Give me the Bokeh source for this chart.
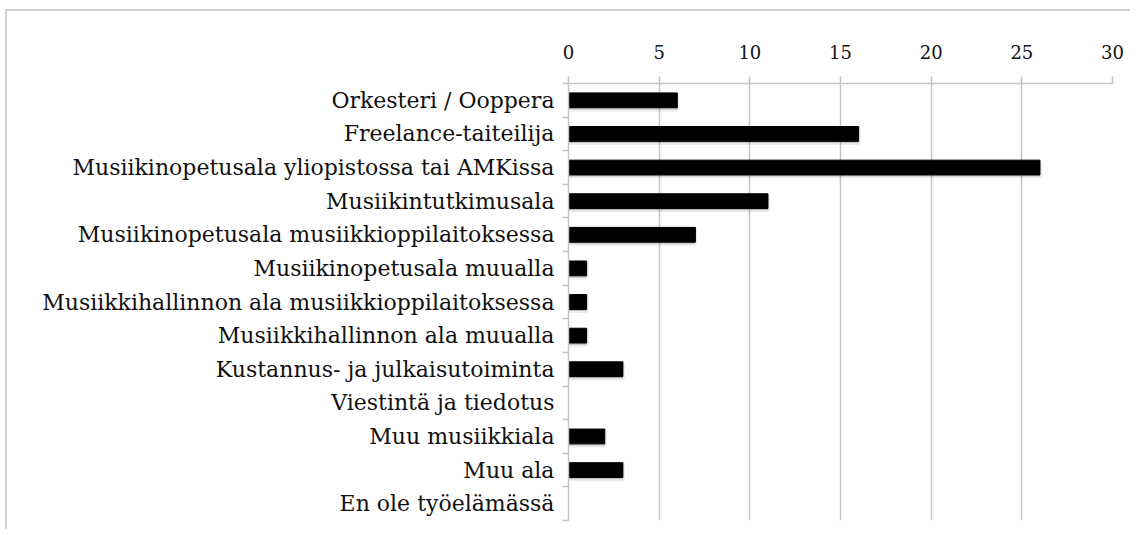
from bokeh.plotting import figure
from bokeh.models import (FactorRange, Range1d, CategoricalAxis,
                          FixedTicker, ColumnDataSource)
from bokeh.transform import dodge
from bokeh.embed import file_html
from bokeh.resources import INLINE

categories = [
    "Orkesteri / Ooppera",
    "Freelance-taiteilija",
    "Musiikinopetusala yliopistossa tai AMKissa",
    "Musiikintutkimusala",
    "Musiikinopetusala musiikkioppilaitoksessa",
    "Musiikinopetusala muualla",
    "Musiikkihallinnon ala musiikkioppilaitoksessa",
    "Musiikkihallinnon ala muualla",
    "Kustannus- ja julkaisutoiminta",
    "Viestintä ja tiedotus",
    "Muu musiikkiala",
    "Muu ala",
    "En ole työelämässä",
]
values = [6, 16, 26, 11, 7, 1, 1, 1, 3, 0, 2, 3, 0]
x_ticks = [0, 5, 10, 15, 20, 25, 30]

FONT = "DejaVu Serif"
GRID = "#c4c4c4"

factors = list(reversed(categories))
src = ColumnDataSource(dict(cat=categories, val=values))
shadow = ColumnDataSource(dict(cat=[c for c, v in zip(categories, values) if v > 0],
                               val=[v for v in values if v > 0]))

p = figure(width=1125, height=520,
           y_range=FactorRange(factors=factors, range_padding=0),
           x_range=Range1d(0, 30),
           x_axis_location="above", y_axis_location=None,
           output_backend="svg", toolbar_location=None,
           min_border_left=561, min_border_right=20,
           min_border_top=72, min_border_bottom=11)
p.styles = {"border-top": "2px solid #d0d0d0", "border-left": "2px solid #d0d0d0",
            "margin-top": "9px", "margin-left": "5px"}
p.outline_line_color = None
p.background_fill_color = "white"
# helper range whose factor centres fall on the category boundaries
bounds = ["b%d" % i for i in range(len(categories) + 1)]
p.extra_y_ranges = {"bounds": FactorRange(factors=bounds, range_padding=-0.499,
                                          range_padding_units="absolute")}

# x axis on top
xa = p.xaxis[0]
xa.ticker = FixedTicker(ticks=x_ticks)
xa.axis_line_color = GRID
xa.axis_line_width = 1.5
xa.major_tick_line_color = GRID
xa.major_tick_line_width = 1.5
xa.major_tick_out = 7
xa.major_tick_in = 0
xa.minor_tick_line_color = None
xa.major_label_text_font = FONT
xa.major_label_text_font_size = "18px"
xa.major_label_text_color = "#111111"
xa.major_label_standoff = 18

p.xgrid.ticker = FixedTicker(ticks=x_ticks)
p.xgrid.grid_line_color = GRID
p.xgrid.grid_line_width = 1.5
p.ygrid.grid_line_color = None

# y axis: tick marks at category boundaries (labels not drawn)
ta = CategoricalAxis(y_range_name="bounds",
                     axis_line_color=GRID, axis_line_width=1.5,
                     major_tick_line_color=GRID, major_tick_line_width=1.5,
                     major_tick_out=6, major_tick_in=0,
                     major_label_text_color=None,
                     major_label_text_font_size="1px",
                     major_label_standoff=0)
p.add_layout(ta, "left")
# y axis: category labels
ca = CategoricalAxis(axis_line_color=None, major_tick_line_color=None,
                     major_label_text_font=FONT,
                     major_label_text_font_size="22px",
                     major_label_text_color="#111111",
                     major_label_standoff=2)
p.add_layout(ca, "left")

# bars with a soft drop shadow
p.hbar(y=dodge("cat", -0.05, range=p.y_range), left=0, right="val", height=0.44,
       source=shadow, fill_color="black", fill_alpha=0.18,
       line_color="black", line_alpha=0.08, line_width=4)
p.hbar(y="cat", left=0, right="val", height=0.44, source=src,
       fill_color="black", line_color="black")

open("out.html", "w").write(file_html(p, INLINE))
